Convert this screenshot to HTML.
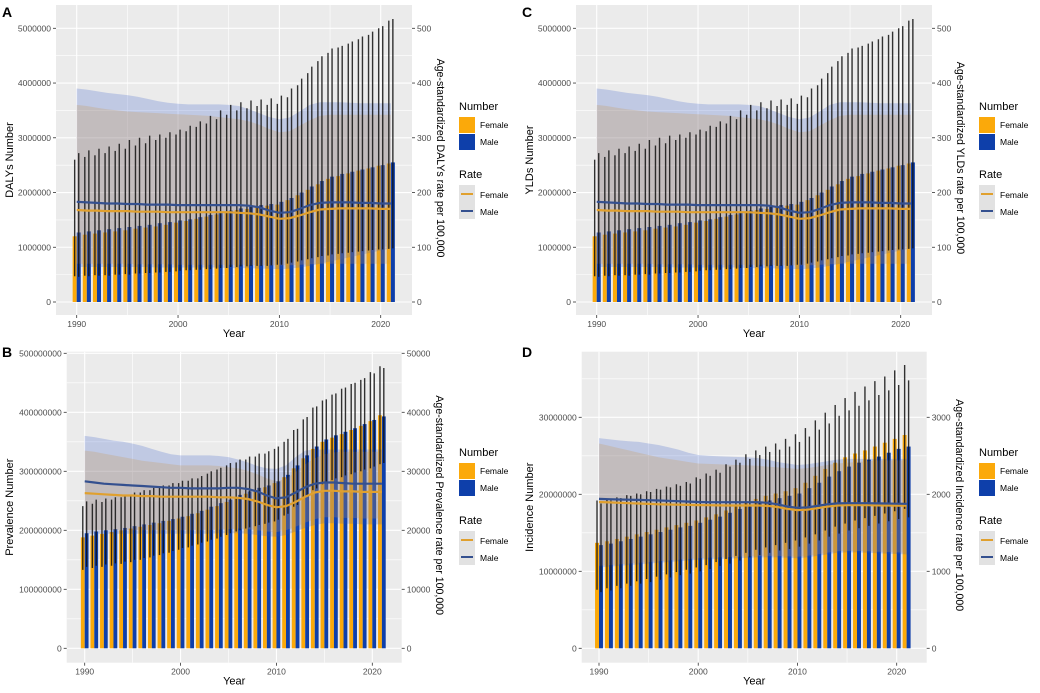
<!DOCTYPE html>
<html><head><meta charset="utf-8">
<style>
html,body{margin:0;padding:0;background:#fff;}
svg{display:block;font-family:"Liberation Sans",Arial,sans-serif;}
.tk{font-size:8.5px;fill:#4d4d4d;}
.ttl{font-size:11px;fill:#000;}
.rt{font-size:10.6px;fill:#000;}
.lg{font-size:8.5px;fill:#000;}
.lgt{font-size:11px;fill:#000;}
.pl{font-size:14px;font-weight:bold;fill:#000;}
</style></head>
<body>
<svg id="chart" width="1040" height="693" viewBox="0 0 1040 693"></svg>
<script>
const years = [1990,1991,1992,1993,1994,1995,1996,1997,1998,1999,2000,2001,2002,2003,2004,2005,2006,2007,2008,2009,2010,2011,2012,2013,2014,2015,2016,2017,2018,2019,2020,2021];

// Panel A / C (DALYs, YLDs) numbers in thousands, rates per 100,000
const dalyFemaleNumber = [1200,1230,1250,1270,1290,1310,1340,1360,1380,1410,1450,1480,1520,1560,1600,1640,1680,1700,1730,1760,1780,1860,1950,2050,2150,2250,2300,2350,2400,2440,2490,2530];
const dalyMaleNumber = [1270,1290,1310,1330,1350,1370,1390,1410,1440,1460,1490,1510,1550,1590,1630,1670,1710,1740,1770,1790,1830,1900,2000,2110,2210,2290,2340,2380,2420,2460,2500,2550];
const dalyFemaleUpper = [2600,2650,2680,2720,2760,2800,2860,2900,2960,3000,3060,3120,3200,3260,3340,3420,3500,3540,3580,3600,3620,3740,3960,4180,4400,4550,4650,4720,4800,4880,5000,5140];
const dalyMaleUpper = [2720,2770,2800,2840,2890,2960,3000,3040,3060,3100,3150,3220,3300,3400,3500,3600,3650,3680,3700,3720,3770,3900,4080,4300,4490,4630,4680,4760,4850,4940,5040,5170];
const dalyFemaleLower = [470,480,490,490,500,510,520,530,540,550,560,580,590,600,610,620,640,650,660,660,680,700,740,780,820,850,880,900,920,940,960,970];
const dalyMaleLower = [460,470,480,480,500,500,520,530,540,550,570,580,590,600,620,640,650,660,660,670,680,720,760,800,840,870,890,910,930,950,960,980];
const dalyFemaleRate = [168,167,167,166,166,166,165,165,165,164,164,164,164,164,164,164,163,162,160,156,152,153,158,164,169,170,171,171,171,171,170,170];
const dalyMaleRate = [183,182,181,180,180,179,179,178,178,178,177,177,177,177,177,177,177,176,173,167,163,164,170,177,181,182,182,182,181,181,180,180];
const dalyFemaleRibLo = [70,70,70,70,70,70,69,69,69,69,68,68,68,68,68,68,68,68,67,67,67,67,68,69,70,70,70,70,70,70,70,70];
const dalyFemaleRibHi = [360,358,355,352,350,348,347,346,345,344,343,342,341,340,338,336,334,330,324,316,310,312,322,332,340,342,342,342,342,342,342,342];
const dalyMaleRibLo = [64,64,64,64,64,64,64,64,63,63,63,63,63,63,63,62,62,62,61,61,60,61,63,66,70,74,78,82,86,90,94,98];
const dalyMaleRibHi = [390,388,385,382,380,378,375,371,367,364,362,361,361,361,361,360,358,352,345,338,334,337,348,360,365,365,365,364,363,363,363,363];

// Panel B (Prevalence) numbers in millions
const prevFemaleNumber = [188,191,194,197,200,203,206,209,212,216,220,224,229,235,241,248,255,262,268,273,280,290,305,322,338,350,357,363,370,377,385,395];
const prevMaleNumber = [195,198,200,202,204,207,210,213,216,219,223,228,233,240,246,252,260,266,272,276,283,294,310,327,342,354,361,367,373,380,387,393];
const prevFemaleUpper = [241,245,248,252,256,260,264,268,272,276,280,284,288,296,303,310,315,320,325,330,338,350,370,388,408,420,430,440,448,455,468,478];
const prevMaleUpper = [249,252,254,256,260,264,268,272,276,280,284,288,292,300,306,314,320,325,330,334,342,355,372,392,410,422,432,442,450,458,466,475];
const prevFemaleLower = [133,136,138,140,143,146,150,154,158,162,167,171,176,181,186,192,198,203,207,211,215,225,240,255,268,278,285,290,295,300,305,312];
const prevMaleLower = [138,140,142,144,147,150,153,157,161,165,170,174,179,184,189,195,200,205,209,213,218,228,243,258,271,281,288,293,298,303,308,314];
const prevFemaleRate = [26300,26200,26100,26000,25900,25900,25800,25800,25700,25700,25700,25700,25700,25700,25600,25600,25500,25300,24900,24300,23900,24100,24800,25700,26400,26700,26700,26600,26600,26500,26500,26500];
const prevMaleRate = [28300,28100,27900,27800,27700,27600,27500,27400,27300,27200,27200,27100,27100,27100,27100,27200,27200,27000,26600,25900,25400,25600,26400,27300,27900,28100,28100,28000,27900,27900,27900,27900];
const prevFemaleRibLo = [20000,20000,20000,20000,20000,20000,20000,20000,20000,20000,20000,20000,20000,20000,20100,20200,20300,20200,20000,19800,19700,20000,20600,21300,21900,22200,22200,22100,22100,22000,22000,22000];
const prevFemaleRibHi = [33500,33300,33000,32700,32400,32100,31800,31600,31400,31200,31000,31000,31000,31000,30900,30700,30500,30100,29500,28800,28300,28700,29900,31200,32200,32900,33200,33300,33300,33300,33300,33300];
const prevMaleRibLo = [19400,19400,19400,19400,19400,19400,19400,19400,19400,19400,19400,19400,19400,19400,19500,19500,19500,19400,19200,19000,18900,19200,19800,20400,20900,21200,21200,21100,21100,21000,21000,21000];
const prevMaleRibHi = [36000,35800,35500,35200,35000,34700,34300,33800,33300,32900,32700,32700,32700,32700,32600,32400,32000,31500,30900,30500,30400,31000,32400,33500,33700,33700,33700,33700,33700,33700,33700,33700];

// Panel D (Incidence) numbers in millions
const incFemaleNumber = [13.7,13.9,14.2,14.5,14.8,15.1,15.4,15.7,16.0,16.3,16.6,17.0,17.4,17.9,18.4,18.9,19.4,19.8,20.1,20.4,20.8,21.5,22.4,23.3,24.1,24.8,25.3,25.7,26.2,26.7,27.2,27.7];
const incMaleNumber = [13.4,13.6,13.9,14.2,14.5,14.8,15.1,15.4,15.7,15.9,16.3,16.7,17.1,17.6,18.1,18.4,18.9,19.2,19.5,19.8,20.1,20.8,21.5,22.3,23.0,23.6,24.1,24.5,24.9,25.4,25.9,26.2];
const incFemaleUpper = [19.2,19.4,19.6,19.9,20.1,20.4,20.7,21.0,21.3,21.6,22.2,22.7,23.2,23.9,24.5,25.2,25.7,26.2,26.6,27.2,27.8,28.6,29.6,30.6,31.6,32.5,33.3,34.0,34.7,35.3,36.1,36.8];
const incMaleUpper = [18.8,19.2,19.5,19.8,20.0,20.3,20.6,20.9,21.1,21.4,22.0,22.4,22.8,23.6,24.1,24.6,25.1,25.5,25.8,26.2,26.8,27.5,28.4,29.2,30.2,30.9,31.5,32.2,32.9,33.5,34.2,34.8];
const incFemaleLower = [7.6,7.8,8.1,8.4,8.7,9.0,9.3,9.6,9.9,10.2,10.5,10.8,11.2,11.6,12.0,12.4,12.8,13.1,13.4,13.7,14.0,14.4,14.8,15.3,15.8,16.2,16.6,16.9,17.2,17.5,17.8,18.1];
const incMaleLower = [7.3,7.5,7.8,8.1,8.4,8.6,8.9,9.2,9.5,9.7,10.0,10.3,10.7,11.0,11.4,11.8,12.1,12.4,12.7,12.9,13.2,13.6,14.0,14.5,14.9,15.3,15.6,15.9,16.2,16.5,16.8,17.0];
const incFemaleRate = [1900,1895,1890,1885,1880,1875,1870,1868,1865,1862,1860,1858,1856,1855,1855,1855,1855,1850,1835,1810,1795,1800,1820,1840,1855,1860,1860,1858,1856,1855,1853,1852];
const incMaleRate = [1940,1937,1933,1930,1927,1923,1920,1915,1910,1905,1900,1898,1897,1897,1897,1897,1897,1890,1870,1840,1825,1830,1850,1870,1882,1885,1885,1884,1882,1880,1878,1876];
const incFemaleRibLo = [1070,1080,1090,1100,1110,1120,1130,1140,1150,1160,1170,1175,1180,1185,1190,1195,1200,1200,1200,1195,1190,1200,1220,1240,1260,1265,1265,1260,1255,1250,1245,1240];
const incFemaleRibHi = [2660,2630,2600,2570,2540,2510,2480,2460,2440,2420,2400,2395,2390,2385,2380,2375,2370,2360,2350,2340,2330,2340,2360,2380,2400,2410,2420,2430,2440,2440,2440,2440];
const incMaleRibLo = [1050,1060,1070,1080,1090,1100,1110,1120,1130,1140,1150,1155,1160,1165,1170,1175,1180,1180,1180,1175,1170,1180,1200,1220,1240,1245,1245,1240,1235,1230,1225,1220];
const incMaleRibHi = [2730,2715,2700,2690,2680,2660,2640,2610,2580,2540,2510,2500,2495,2490,2485,2480,2470,2450,2420,2400,2380,2390,2410,2430,2450,2460,2460,2460,2460,2460,2460,2460];

const xTickYears = [1990,2000,2010,2020];
const dalyLeftTicks = [0,1000,2000,3000,4000,5000];
const dalyLeftLabels = ["0","1000000","2000000","3000000","4000000","5000000"];
const dalyRightLabels = ["0","100","200","300","400","500"];
const prevLeftTicks = [0,100,200,300,400,500];
const prevLeftLabels = ["0","100000000","200000000","300000000","400000000","500000000"];
const prevRightLabels = ["0","10000","20000","30000","40000","50000"];
const incLeftTicks = [0,10,20,30];
const incLeftLabels = ["0","10000000","20000000","30000000"];
const incRightLabels = ["0","1000","2000","3000"];

const NS = "http://www.w3.org/2000/svg";
const svg = document.getElementById('chart');
const ORANGE = "#FBA90A", BLUE = "#0E3FAA";

function mk(tag, attrs, parent){
  const e = document.createElementNS(NS, tag);
  for (const k in attrs) e.setAttribute(k, attrs[k]);
  (parent||svg).appendChild(e);
  return e;
}
function txt(parent, x, y, s, cls, anchor, rot){
  const t = mk('text', {x:x, y:y, class:cls, 'text-anchor':anchor||'start'}, parent);
  if (rot) t.setAttribute('transform', 'rotate(' + rot + ' ' + x + ' ' + y + ')');
  t.textContent = s;
  return t;
}

function drawPanel(c){
  const g = mk('g', {});
  
  
  const L=c.l, R=c.r, T=c.t, B=c.b;
  const xs = y => c.x1990 + (y-1990)*(c.x2020-c.x1990)/30;
  const ys = v => c.y0 - v*(c.y0-c.yTopPx)/c.yTopVal;
  const yr = r => ys(r*c.rateFactor);
  const bg = mk('rect', {x:L, y:T, width:R-L, height:B-T, fill:'#EBEBEB'}, g);
  
  
  const cid = 'clip-' + c.name;
  const cp = mk('clipPath', {id:cid}, g);
  mk('rect', {x:L, y:T, width:R-L, height:B-T}, cp);
  const inner = mk('g', {'clip-path':'url(#'+cid+')'}, g);
  const step = c.leftTicks[1]-c.leftTicks[0];
  for (let i=0;i<c.leftTicks.length+1;i++){
    const v = c.leftTicks[0] + step*(i+0.5);
    const yy = ys(v);
    if (yy>T && yy<B) mk('line', {x1:L, x2:R, y1:yy, y2:yy, stroke:'#fff', 'stroke-width':0.6}, inner);
  }
  [1995,2005,2015].forEach(y=>{ mk('line', {x1:xs(y), x2:xs(y), y1:T, y2:B, stroke:'#fff', 'stroke-width':0.6}, inner); });
  c.leftTicks.forEach(v=>{ const yy=ys(v); mk('line', {x1:L, x2:R, y1:yy, y2:yy, stroke:'#fff', 'stroke-width':1.1}, inner); });
  xTickYears.forEach(y=>{ mk('line', {x1:xs(y), x2:xs(y), y1:T, y2:B, stroke:'#fff', 'stroke-width':1.1}, inner); });
  const bw = 0.4*(c.x2020-c.x1990)/30;
  years.forEach((y,i)=>{
    const xf = xs(y-0.2), xm = xs(y+0.2);
    const fb = mk('rect', {x:xf-bw/2, y:ys(c.fN[i]), width:bw, height:c.y0-ys(c.fN[i]), fill:ORANGE}, inner);
    
    
    const mb = mk('rect', {x:xm-bw/2, y:ys(c.mN[i]), width:bw, height:c.y0-ys(c.mN[i]), fill:BLUE}, inner);
    
    
  });
  function ribbon(lo, hi, fill, name){
    let d = '';
    years.forEach((y,i)=>{ d += (i?'L':'M') + xs(y).toFixed(1) + ',' + yr(hi[i]).toFixed(1); });
    for (let i=years.length-1;i>=0;i--) d += 'L' + xs(years[i]).toFixed(1) + ',' + yr(lo[i]).toFixed(1);
    const p = mk('path', {d:d+'Z', fill:fill}, inner);
    
    
  }
  ribbon(c.mRL, c.mRH, 'rgba(40,80,200,0.22)', 'male-rate-ribbon');
  ribbon(c.fRL, c.fRH, 'rgba(200,150,80,0.26)', 'female-rate-ribbon');
  years.forEach((y,i)=>{
    const xf = xs(y-0.2), xm = xs(y+0.2);
    const ef = mk('line', {x1:xf, x2:xf, y1:ys(c.fLo[i]), y2:ys(c.fUp[i]), stroke:'#111', 'stroke-width':1.4, 'stroke-opacity':0.85}, inner);
    
    
    const em = mk('line', {x1:xm, x2:xm, y1:ys(c.mLo[i]), y2:ys(c.mUp[i]), stroke:'#111', 'stroke-width':1.4, 'stroke-opacity':0.85}, inner);
    
    
  });
  function rline(arr, col, name){
    const pts = years.map((y,i)=> xs(y).toFixed(1)+','+yr(arr[i]).toFixed(1)).join(' ');
    const p = mk('polyline', {points:pts, fill:'none', stroke:col, 'stroke-width':2.2, 'stroke-linejoin':'round'}, inner);
    
    
  }
  rline(c.fR, '#E0A02E', 'female-rate-line');
  rline(c.mR, '#34508F', 'male-rate-line');
  c.leftTicks.forEach((v,i)=>{
    const yy = ys(v);
    mk('line', {x1:L-3, x2:L, y1:yy, y2:yy, stroke:'#333', 'stroke-width':0.8}, g);
    txt(g, L-5, yy+3, c.leftLabels[i], 'tk', 'end');
    mk('line', {x1:R, x2:R+3, y1:yy, y2:yy, stroke:'#333', 'stroke-width':0.8}, g);
    txt(g, R+5, yy+3, c.rightLabels[i], 'tk', 'start');
  });
  xTickYears.forEach(y=>{
    mk('line', {x1:xs(y), x2:xs(y), y1:B, y2:B+3, stroke:'#333', 'stroke-width':0.8}, g);
    txt(g, xs(y), B+12, String(y), 'tk', 'middle');
  });
  const xt = txt(g, (L+R)/2, B+22, 'Year', 'ttl', 'middle');
   
  const ylt = txt(g, c.lx, (T+B)/2, c.leftTitle, 'ttl', 'middle', -90);
   
  const yrt = txt(g, c.rx, (T+B)/2 - 2, c.rightTitle, 'rt', 'middle', 90);
   
  const pl = txt(g, c.plx, c.ply, c.letter, 'pl', 'start');
   
  const lx = c.legX, ly = c.legY;
  const lg = mk('g', {}, g);
  
  
  txt(lg, lx, ly, 'Number', 'lgt');
  mk('rect', {x:lx, y:ly+7, width:16, height:16, fill:ORANGE}, lg);
  mk('rect', {x:lx, y:ly+24, width:16, height:16, fill:BLUE}, lg);
  txt(lg, lx+21, ly+18, 'Female', 'lg');
  txt(lg, lx+21, ly+35, 'Male', 'lg');
  txt(lg, lx, ly+68, 'Rate', 'lgt');
  mk('rect', {x:lx, y:ly+75, width:16, height:34, fill:'#E2E2E2'}, lg);
  mk('line', {x1:lx+2, x2:lx+14, y1:ly+84, y2:ly+84, stroke:'#E0A02E', 'stroke-width':2}, lg);
  mk('line', {x1:lx+2, x2:lx+14, y1:ly+101, y2:ly+101, stroke:'#34508F', 'stroke-width':2}, lg);
  txt(lg, lx+21, ly+88, 'Female', 'lg');
  txt(lg, lx+21, ly+105, 'Male', 'lg');
}

drawPanel({name:'panel-a-dalys', letter:'A', plx:2, ply:17, l:56, r:412, t:5, b:315, x1990:76.7, x2020:380.7, y0:302, yTopPx:28.3, yTopVal:5000, rateFactor:10,
  leftTicks:dalyLeftTicks, leftLabels:dalyLeftLabels, rightLabels:dalyRightLabels, leftTitle:'DALYs Number', rightTitle:'Age-standardized DALYs rate per 100,000', lx:13, rx:437, legX:459, legY:110,
  fN:dalyFemaleNumber, mN:dalyMaleNumber, fUp:dalyFemaleUpper, mUp:dalyMaleUpper, fLo:dalyFemaleLower, mLo:dalyMaleLower, fR:dalyFemaleRate, mR:dalyMaleRate, fRL:dalyFemaleRibLo, fRH:dalyFemaleRibHi, mRL:dalyMaleRibLo, mRH:dalyMaleRibHi});
drawPanel({name:'panel-c-ylds', letter:'C', plx:522, ply:17, l:576, r:932, t:5, b:315, x1990:596.7, x2020:900.7, y0:302, yTopPx:28.3, yTopVal:5000, rateFactor:10,
  leftTicks:dalyLeftTicks, leftLabels:dalyLeftLabels, rightLabels:dalyRightLabels, leftTitle:'YLDs Number', rightTitle:'Age-standardized YLDs rate per 100,000', lx:533, rx:957, legX:979, legY:110,
  fN:dalyFemaleNumber, mN:dalyMaleNumber, fUp:dalyFemaleUpper, mUp:dalyMaleUpper, fLo:dalyFemaleLower, mLo:dalyMaleLower, fR:dalyFemaleRate, mR:dalyMaleRate, fRL:dalyFemaleRibLo, fRH:dalyFemaleRibHi, mRL:dalyMaleRibLo, mRH:dalyMaleRibHi});
drawPanel({name:'panel-b-prevalence', letter:'B', plx:2, ply:357, l:66.7, r:401.7, t:351.7, b:662.7, x1990:84.7, x2020:372.3, y0:648.3, yTopPx:353.3, yTopVal:500, rateFactor:0.01,
  leftTicks:prevLeftTicks, leftLabels:prevLeftLabels, rightLabels:prevRightLabels, leftTitle:'Prevalence Number', rightTitle:'Age-standardized Prevalence rate per 100,000', lx:13, rx:436, legX:459, legY:456,
  fN:prevFemaleNumber, mN:prevMaleNumber, fUp:prevFemaleUpper, mUp:prevMaleUpper, fLo:prevFemaleLower, mLo:prevMaleLower, fR:prevFemaleRate, mR:prevMaleRate, fRL:prevFemaleRibLo, fRH:prevFemaleRibHi, mRL:prevMaleRibLo, mRH:prevMaleRibHi});
drawPanel({name:'panel-d-incidence', letter:'D', plx:522, ply:357, l:581.7, r:926.7, t:351.7, b:662.7, x1990:599, x2020:896.7, y0:648.3, yTopPx:417.3, yTopVal:30, rateFactor:0.01,
  leftTicks:incLeftTicks, leftLabels:incLeftLabels, rightLabels:incRightLabels, leftTitle:'Incidence Number', rightTitle:'Age-standardized Incidence rate per 100,000', lx:533, rx:956, legX:979, legY:456,
  fN:incFemaleNumber, mN:incMaleNumber, fUp:incFemaleUpper, mUp:incMaleUpper, fLo:incFemaleLower, mLo:incMaleLower, fR:incFemaleRate, mR:incMaleRate, fRL:incFemaleRibLo, fRH:incFemaleRibHi, mRL:incMaleRibLo, mRH:incMaleRibHi});
</script>
</body></html>
